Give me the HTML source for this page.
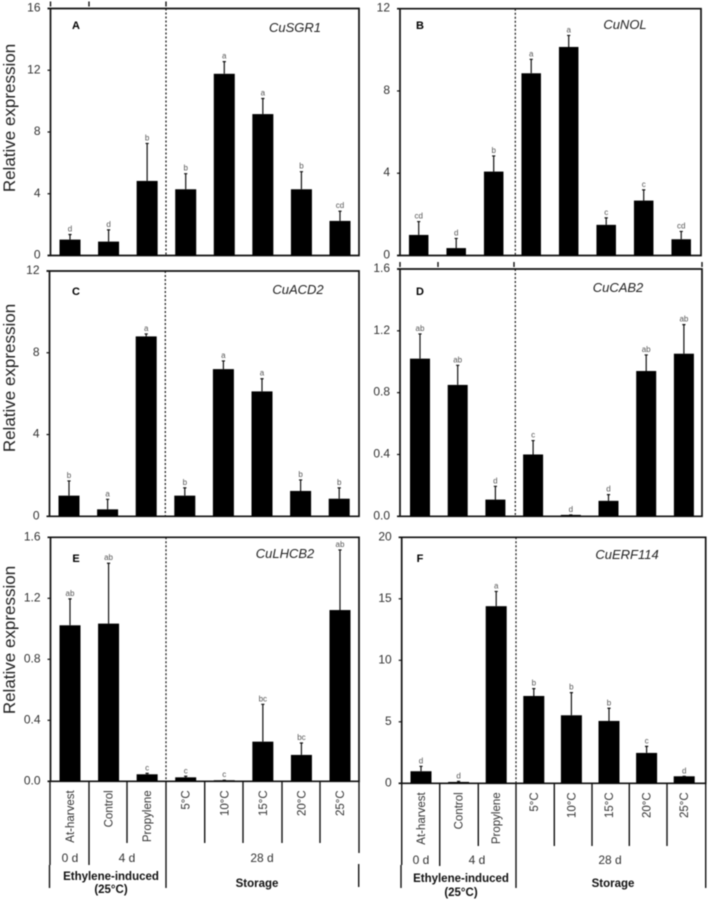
<!DOCTYPE html>
<html lang="en">
<head>
<meta charset="utf-8">
<title>Relative expression charts</title>
<style>
html,body{margin:0;padding:0;background:#fff;}
svg{display:block;filter:blur(0.4px);font-family:"Liberation Sans",sans-serif;}
</style>
</head>
<body>
<svg id="figure" xmlns="http://www.w3.org/2000/svg" width="708" height="900" viewBox="0 0 708 900"></svg>
<script>
// ---- data ----
const categories = ["At-harvest","Control","Propylene","5°C","10°C","15°C","20°C","25°C"];

const sgr1Values = [1.03,0.90,4.83,4.29,11.77,9.16,4.29,2.24];
const sgr1Errors = [0.33,0.76,2.43,1.01,0.79,1.01,1.14,0.63];
const sgr1Letters = ["d","d","b","b","a","a","b","cd"];
const sgr1Ticks = ["0","4","8","12","16"];

const nolValues = [1.00,0.36,4.08,8.86,10.14,1.49,2.67,0.79];
const nolErrors = [0.65,0.47,0.76,0.68,0.56,0.34,0.52,0.38];
const nolLetters = ["cd","d","b","a","a","c","c","cd"];
const nolTicks = ["0","4","8","12"];

const acd2Values = [1.01,0.34,8.80,1.01,7.20,6.11,1.24,0.86];
const acd2Errors = [0.72,0.49,0.12,0.38,0.40,0.62,0.54,0.53];
const acd2Letters = ["b","a","a","b","a","a","b","b"];
const acd2Ticks = ["0","4","8","12"];

const cab2Values = [1.02,0.85,0.108,0.40,0.009,0.10,0.94,1.052];
const cab2Errors = [0.16,0.127,0.086,0.09,0.0,0.04,0.104,0.188];
const cab2Letters = ["ab","ab","d","c","d","d","ab","ab"];
const cab2Ticks = ["0.0","0.4","0.8","1.2","1.6"];

const lhcb2Values = [1.023,1.034,0.046,0.026,0.007,0.26,0.173,1.123];
const lhcb2Errors = [0.173,0.396,0.006,0.007,0.0,0.245,0.078,0.394];
const lhcb2Letters = ["ab","ab","c","c","c","bc","bc","ab"];
const lhcb2Ticks = ["0.0","0.4","0.8","1.2","1.6"];

const erf114Values = [0.98,0.11,14.4,7.1,5.53,5.07,2.47,0.57];
const erf114Errors = [0.40,0.05,1.2,0.6,1.84,1.03,0.53,0.0];
const erf114Letters = ["d","d","a","b","b","b","c","d"];
const erf114Ticks = ["0","5","10","15","20"];

// ---- panel layout ----
const svg = document.getElementById('figure');
const NS = 'http://www.w3.org/2000/svg';

function mk(tag, props, text) {
  const el = document.createElementNS(NS, tag);
  for (const k in props) el.setAttribute(k, props[k]);
  if (text !== undefined) el.textContent = text;
  svg.appendChild(el);
  return el;
}

function drawPanel(p) {
  const max = parseFloat(p.ticks[p.ticks.length - 1]);
  const yScale = v => p.bottom - (v / max) * (p.bottom - p.top);
  const xScale = i => p.first + i * p.step;
  const key = p.letter.toLowerCase();

  // frame
  const frame = mk('path', {
    d: `M${p.left - 3} ${p.top}H${p.right}V${p.bottom}H${p.left - 3}M${p.left} ${p.top}V${p.bottom}`,
    fill: 'none', stroke: '#111', 'stroke-width': 1.7
  });
  
  

  // y axis
  p.ticks.forEach(t => {
    const y = yScale(parseFloat(t));
    const tick = mk('line', {x1: p.left - 3, x2: p.left, y1: y, y2: y, stroke: '#111', 'stroke-width': 1.2});
    
    
    const label = mk('text', {x: p.left - 10, y: y + 3, 'text-anchor': 'end', 'font-size': 12, fill: '#333'}, t);
    
    
  });

  // divider
  const divider = mk('line', {x1: p.divider, x2: p.divider, y1: p.top, y2: p.bottom, stroke: '#111', 'stroke-width': 1.2, 'stroke-dasharray': '2 2'});
  
  

  // bars, errors, letters
  p.values.forEach((v, i) => {
    const cx = xScale(i);
    const yTop = yScale(v);
    const bar = mk('rect', {x: cx - p.barW / 2, y: yTop, width: p.barW, height: p.bottom - yTop, fill: '#000'});
    
    
    const yErr = yScale(v + p.errors[i]);
    const err = mk('path', {d: `M${cx} ${yTop}V${yErr}M${cx - 1.6} ${yErr}H${cx + 1.6}`, fill: 'none', stroke: '#111', 'stroke-width': 1.2});
    
    
    const sig = mk('text', {x: cx, y: yErr - 3, 'text-anchor': 'middle', 'font-size': 8, fill: '#555'}, p.letters[i]);
    
    
  });

  // panel letter and gene name
  const pl = mk('text', {x: p.letterX, y: p.letterY + 4, 'text-anchor': 'middle', 'font-size': 11, 'font-weight': 'bold', fill: '#000'}, p.letter);
  
  
  const gene = mk('text', {x: p.geneX, y: p.geneY + 4, 'text-anchor': 'middle', 'font-size': 13, 'font-style': 'italic', fill: '#222'}, p.gene);
  
  

  // y title
  if (p.titleY) {
    const title = mk('text', {x: 15, y: p.titleY, 'text-anchor': 'middle', 'font-size': 17, fill: '#222', transform: `rotate(-90 15 ${p.titleY})`}, 'Relative expression');
    
    
  }

  // small top ticks
  if (p.topTicks) {
    p.topTicks.forEach(x => {
      const tt = mk('line', {x1: x, x2: x, y1: p.top - 7, y2: p.top - 2, stroke: '#111', 'stroke-width': 1.4});
      
      
    });
  }

  // category strip
  if (p.strip) {
    const s = p.strip;
    categories.forEach((c, i) => {
      const cx = xScale(i);
      const ty = p.bottom + 9;
      const cat = mk('text', {x: cx + 4, y: ty, 'text-anchor': 'end', 'font-size': 11.5, fill: '#333', transform: `rotate(-90 ${cx + 4} ${ty})`}, c);
      
      
    });
    s.lines.forEach(l => {
      const ln = mk('line', {x1: l[0], x2: l[0], y1: l[1], y2: l[2], stroke: '#111', 'stroke-width': 1.4});
      
      
    });
    s.days.forEach(d => {
      const dt = mk('text', {x: d[0], y: s.dayY, 'text-anchor': 'middle', 'font-size': 12, fill: '#333'}, d[1]);
      
      
    });
    s.bold.forEach(b => {
      const bt = mk('text', {x: b[0], y: b[1], 'text-anchor': 'middle', 'font-size': 11.5, 'font-weight': 'bold', fill: '#111'}, b[2]);
      
      
    });
  }
}

drawPanel({letter:'A', gene:'CuSGR1', values:sgr1Values, errors:sgr1Errors, letters:sgr1Letters, ticks:sgr1Ticks,
  left:50.5, right:359, top:8.5, bottom:255.5, first:70, step:38.57, barW:21, divider:166,
  letterX:76, letterY:25, geneX:295, geneY:28, titleY:118, topTicks:[50.5,89,166]});

drawPanel({letter:'B', gene:'CuNOL', values:nolValues, errors:nolErrors, letters:nolLetters, ticks:nolTicks,
  left:400, right:701, top:8.7, bottom:255.5, first:418.7, step:37.5, barW:19.5, divider:515.3,
  letterX:420, letterY:25, geneX:625, geneY:25});

drawPanel({letter:'C', gene:'CuACD2', values:acd2Values, errors:acd2Errors, letters:acd2Letters, ticks:acd2Ticks,
  left:49.5, right:359, top:271, bottom:516.3, first:69, step:38.6, barW:21, divider:165.3,
  letterX:76, letterY:291, geneX:298, geneY:290, titleY:378});

drawPanel({letter:'D', gene:'CuCAB2', values:cab2Values, errors:cab2Errors, letters:cab2Letters, ticks:cab2Ticks,
  left:400, right:702, top:269, bottom:516.3, first:420, step:37.7, barW:20, divider:515.3,
  letterX:420, letterY:291, geneX:618, geneY:288, topTicks:[400,438,514,702]});

drawPanel({letter:'E', gene:'CuLHCB2', values:lhcb2Values, errors:lhcb2Errors, letters:lhcb2Letters, ticks:lhcb2Ticks,
  left:50.5, right:359, top:537.3, bottom:781.3, first:70, step:38.57, barW:21, divider:166,
  letterX:76, letterY:558, geneX:285, geneY:554, titleY:640,
  strip:{
    lines:[[50,781,865],[49.5,865,888],[89,781,865],[127,781,843],[166,781,888],[204.7,781,843],[243,781,843],[282,781,843],[320,781,843],[359,781,853],[358.7,864,887]],
    days:[[70,'0 d'],[127,'4 d'],[262,'28 d']], dayY:862,
    bold:[[111,880,'Ethylene-induced'],[111,893,'(25°C)'],[257,887,'Storage']]
  }});

drawPanel({letter:'F', gene:'CuERF114', values:erf114Values, errors:erf114Errors, letters:erf114Letters, ticks:erf114Ticks,
  left:401.7, right:705.7, top:537.3, bottom:783.3, first:421, step:37.6, barW:21, divider:516,
  letterX:420, letterY:558, geneX:627, geneY:555,
  strip:{
    lines:[[401.7,783,865],[401,865,888],[439.7,783,866],[478.3,783,846],[516,783,888],[554.3,783,846],[592,783,846],[629.3,783,846],[667,783,846],[705.7,783,888]],
    days:[[421,'0 d'],[477,'4 d'],[610,'28 d']], dayY:864,
    bold:[[461,882,'Ethylene-induced'],[461,896,'(25°C)'],[613,887,'Storage']]
  }});
</script>
</body>
</html>
